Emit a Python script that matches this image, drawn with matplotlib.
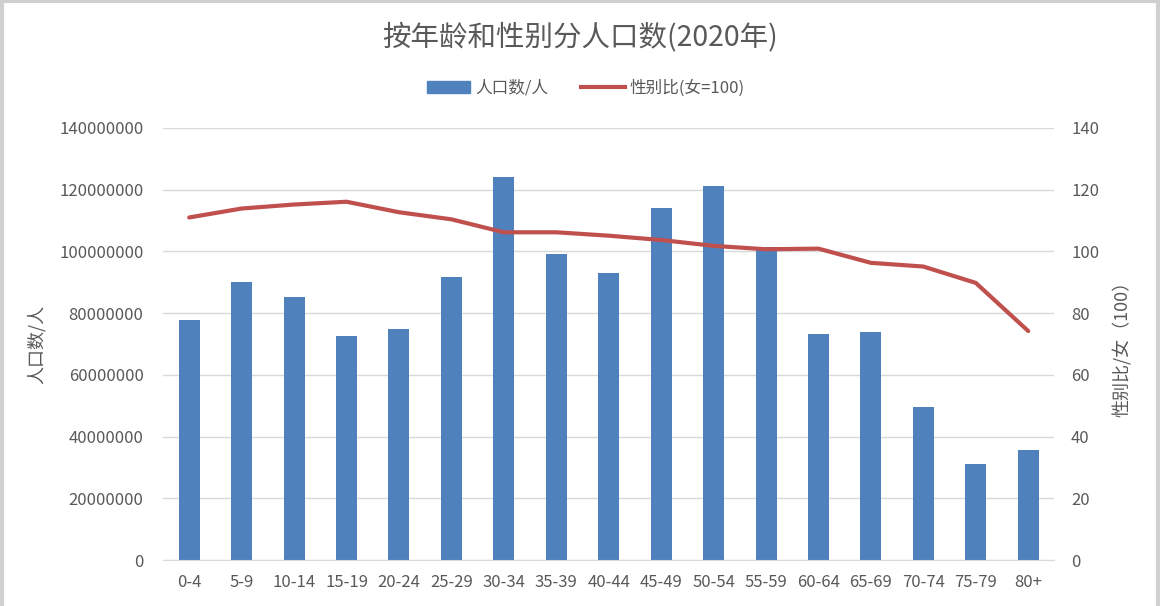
import matplotlib
matplotlib.use("Agg")
import matplotlib.pyplot as plt
from matplotlib.patches import Rectangle
from matplotlib.lines import Line2D

plt.rcParams['font.family'] = ['Noto Sans CJK SC', 'DejaVu Sans']

categories = ["0-4", "5-9", "10-14", "15-19", "20-24", "25-29", "30-34", "35-39",
              "40-44", "45-49", "50-54", "55-59", "60-64", "65-69", "70-74", "75-79", "80+"]
population = [77880000, 90240000, 85260000, 72680000, 74940000, 91850000, 124140000,
              99010000, 92950000, 114220000, 121170000, 101400000, 73390000, 73980000,
              49590000, 31120000, 35800000]
sex_ratio = [111.0, 113.9, 115.2, 116.1, 112.7, 110.4, 106.2, 106.2, 105.1, 103.7,
             101.8, 100.7, 100.9, 96.3, 95.1, 89.8, 74.2]

left_ticks = [0, 20000000, 40000000, 60000000, 80000000, 100000000, 120000000, 140000000]
right_ticks = [0, 20, 40, 60, 80, 100, 120, 140]

title = "按年龄和性别分人口数(2020年)"
bar_label = "人口数/人"
line_label = "性别比(女=100)"
left_ylabel = "人口数/人"
right_ylabel = "性别比/女（100）"

bar_color = "#4F81BD"
line_color = "#C0504D"
text_color = "#595959"
grid_color = "#D9D9D9"

fig = plt.figure(figsize=(11.6, 6.06), dpi=100)
# light border on top, left and right edges
for xs, ys in [([0, 1], [0.998, 0.998]), ([0.002, 0.002], [0, 1]), ([0.998, 0.998], [0, 1])]:
    fig.add_artist(Line2D(xs, ys, transform=fig.transFigure, color="#D0D0D0", linewidth=3))

ax = fig.add_axes([0.1405, 0.0759, 0.7685, 0.7129])
x = list(range(len(categories)))
ax.bar(x, population, width=0.4, color=bar_color, zorder=2)
ax.set_xlim(-0.5, len(categories) - 0.5)
ax.set_ylim(0, 140000000)
ax.set_yticks(left_ticks)
ax.set_yticklabels([str(v) for v in left_ticks])
ax.set_xticks(x)
ax.set_xticklabels(categories)
ax.grid(axis='y', color=grid_color, linewidth=1, zorder=0)
ax.set_axisbelow(True)
for s in ["top", "right", "left"]:
    ax.spines[s].set_visible(False)
ax.spines["bottom"].set_color(grid_color)
ax.tick_params(axis='both', length=0, labelsize=12, colors=text_color)
ax.tick_params(axis='y', pad=14)
ax.tick_params(axis='x', pad=10)
ax.set_ylabel(left_ylabel, fontsize=13, color=text_color, labelpad=10)

ax2 = ax.twinx()
ax2.plot(x, sex_ratio, color=line_color, linewidth=3, solid_capstyle='round', zorder=3)
ax2.set_ylim(0, 140)
ax2.set_yticks(right_ticks)
ax2.set_yticklabels([str(v) for v in right_ticks])
for s in ["top", "right", "left", "bottom"]:
    ax2.spines[s].set_visible(False)
ax2.tick_params(axis='y', length=0, labelsize=12, colors=text_color, pad=12)
ax2.set_ylabel(right_ylabel, fontsize=13, color=text_color, rotation=90, labelpad=10)

fig.text(0.5, 0.938, title, ha='center', va='center', fontsize=20.5, color=text_color)

handles = [Rectangle((0, 0), 1, 1, color=bar_color),
           Line2D([0], [0], color=line_color, linewidth=3)]
fig.legend(handles, [bar_label, line_label], loc='center', bbox_to_anchor=(0.505, 0.855),
           ncol=2, frameon=False, fontsize=12, labelcolor=text_color,
           handlelength=2.6, handleheight=0.7, columnspacing=2.0, handletextpad=0.3)

fig.savefig("out.png", dpi=100)
